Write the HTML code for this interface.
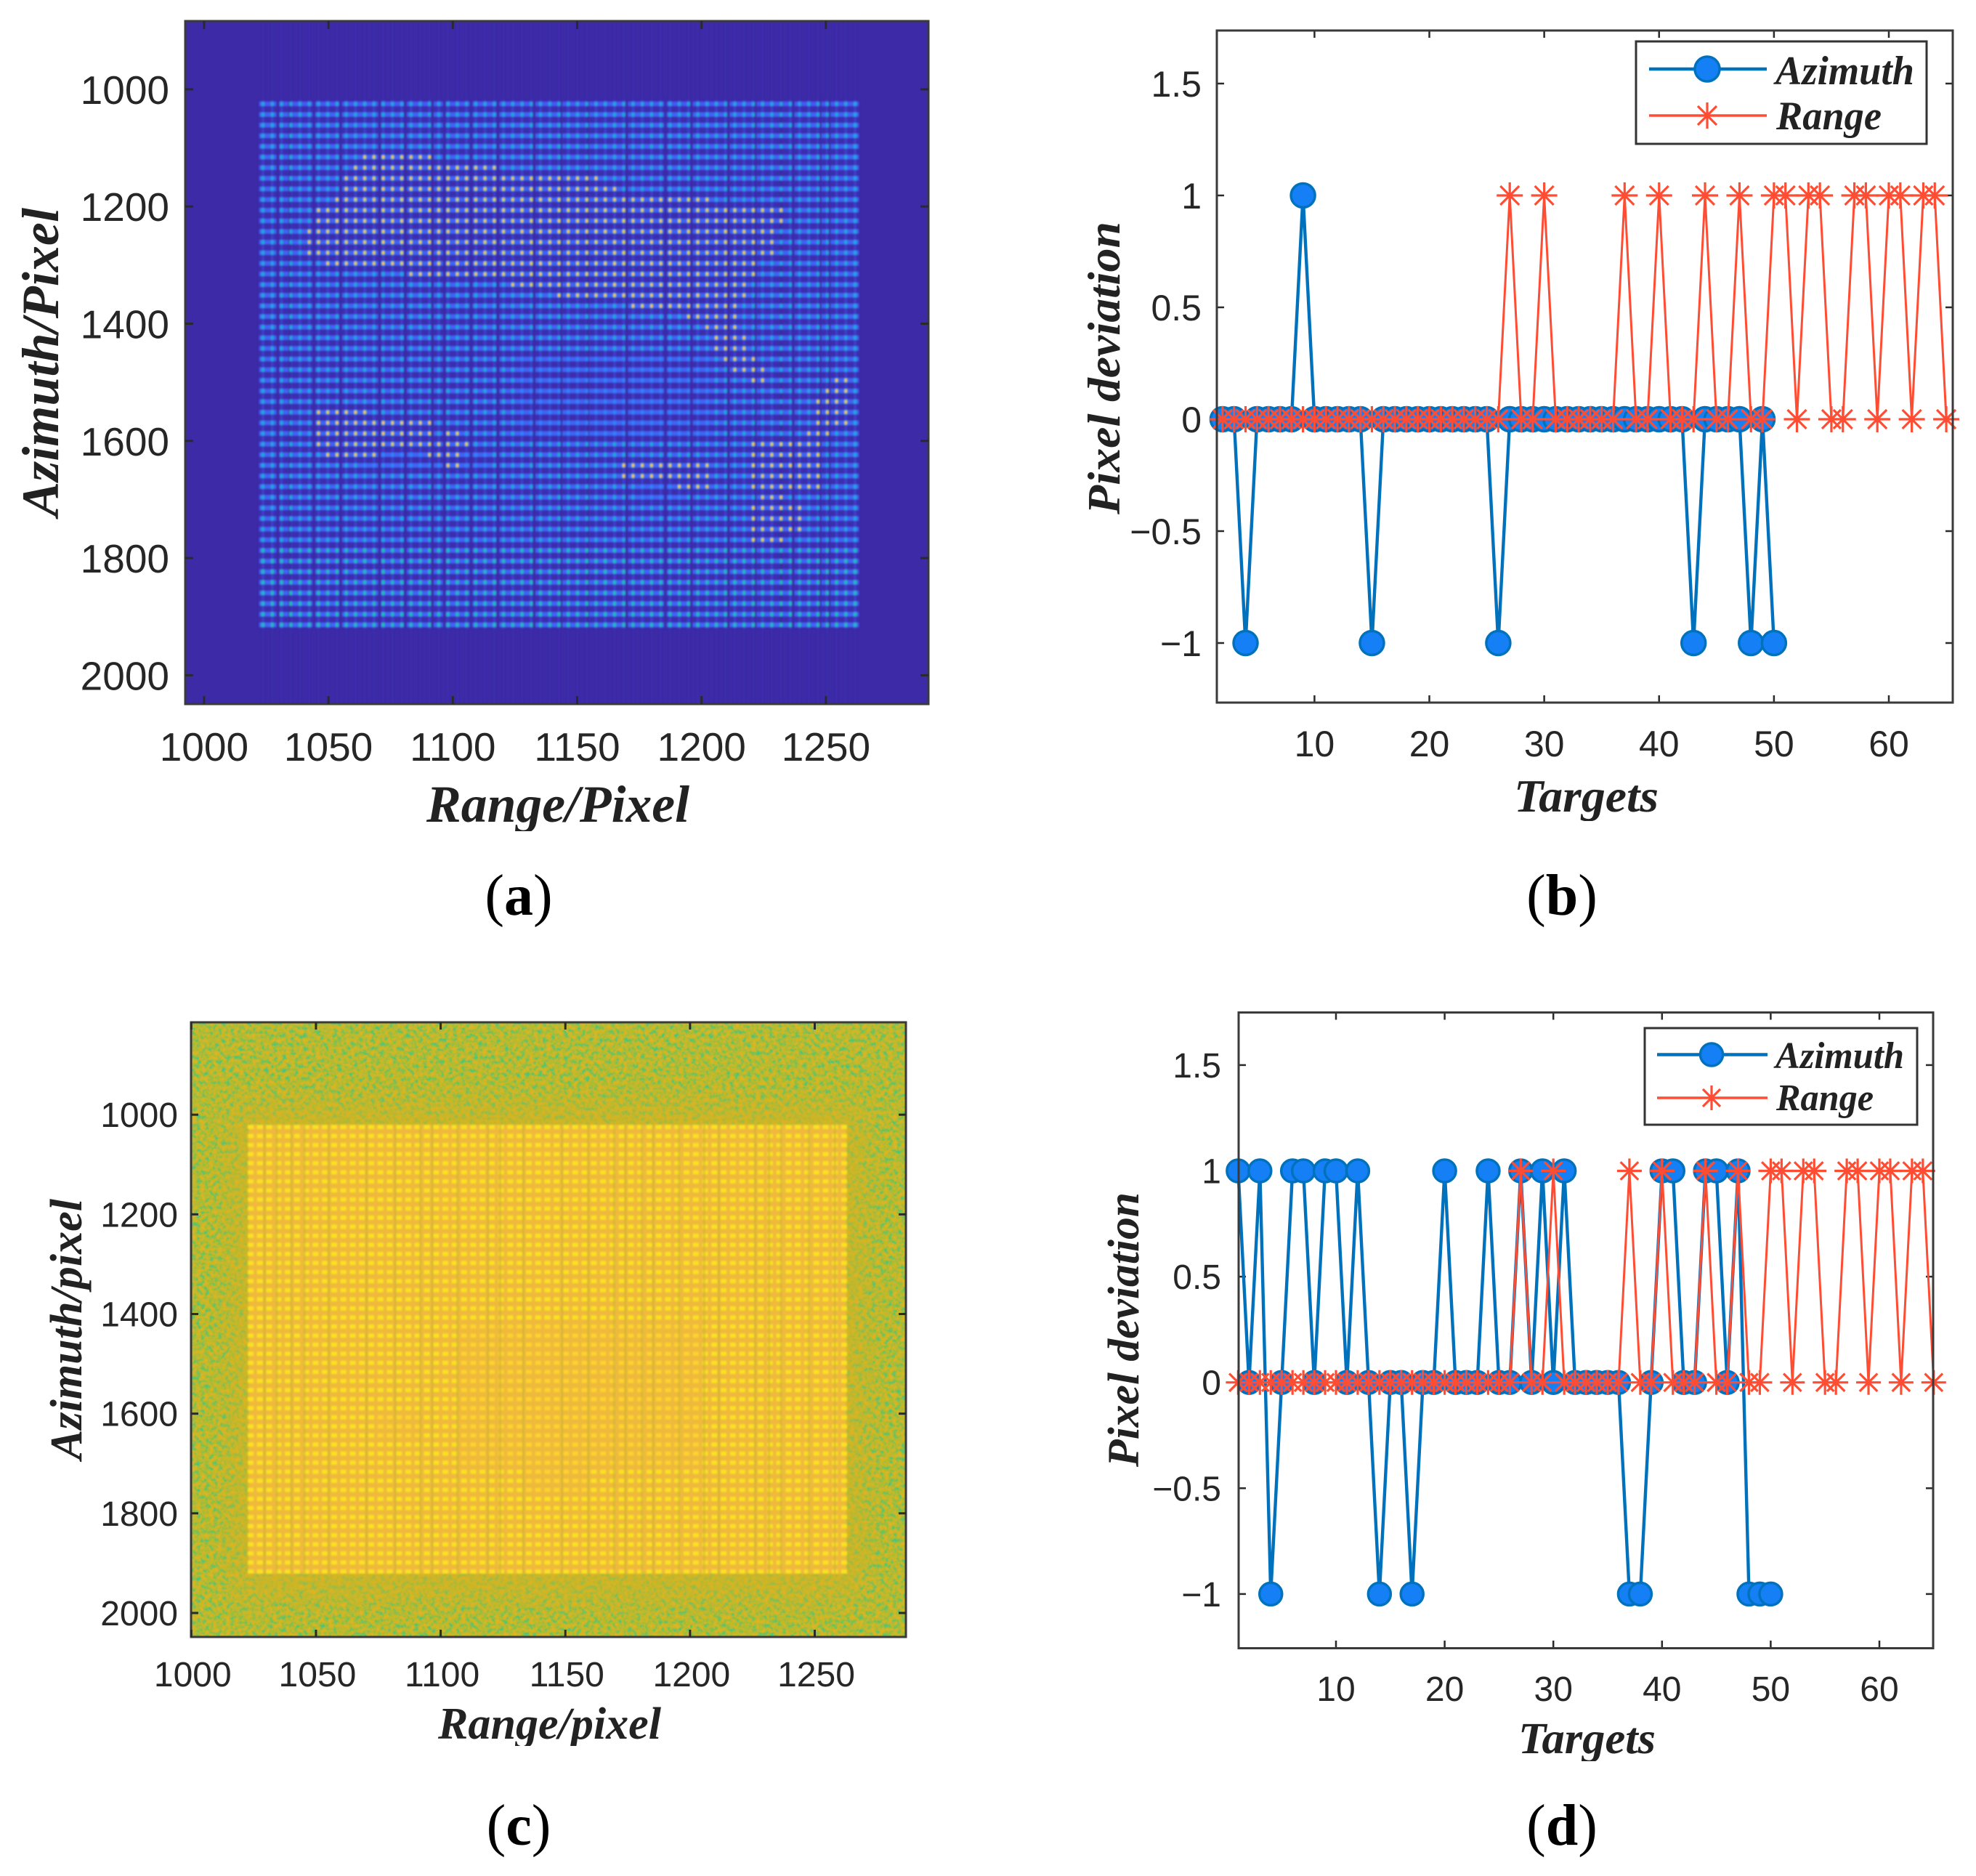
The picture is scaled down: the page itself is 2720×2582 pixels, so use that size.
<!DOCTYPE html>
<html lang="en">
<head>
<meta charset="utf-8">
<title>SAR image and pixel deviation figure</title>
<style>
html,body{margin:0;padding:0;background:#fff}
svg{display:block}
.tick{font-family:"Liberation Sans",sans-serif;fill:#262626}
.lab{font-family:"Liberation Serif",serif;font-weight:bold;font-style:italic;fill:#222}
.cap{font-family:"Liberation Serif",serif;fill:#000;font-size:80px}
.cap tspan{font-weight:bold}
</style>
</head>
<body>
<svg id="fig" xmlns="http://www.w3.org/2000/svg" width="2720" height="2582" viewBox="0 0 2720 2582">
<defs>
<filter id="soft" x="-2%" y="-2%" width="104%" height="104%"><feGaussianBlur stdDeviation="1"/></filter>
<filter id="soft2" x="-2%" y="-2%" width="104%" height="104%"><feGaussianBlur stdDeviation="1"/></filter>
<filter id="glow" x="-10%" y="-10%" width="120%" height="120%"><feGaussianBlur stdDeviation="22"/></filter>
<filter id="speckle" x="0" y="0" width="100%" height="100%" color-interpolation-filters="sRGB">
<feTurbulence type="fractalNoise" baseFrequency="0.17" numOctaves="2" seed="7"/>
<feColorMatrix type="matrix" values="1 0 0 0 0 1 0 0 0 0 1 0 0 0 0 0 0 0 0 1"/>
<feComponentTransfer>
<feFuncR type="table" tableValues="0.20 0.24 0.36 0.56 0.72 0.80 0.86 0.90 0.93"/>
<feFuncG type="table" tableValues="0.78 0.78 0.77 0.75 0.73 0.72 0.71 0.70 0.68"/>
<feFuncB type="table" tableValues="0.58 0.55 0.44 0.28 0.19 0.16 0.15 0.16 0.17"/>
</feComponentTransfer>
</filter>
</defs>
<rect width="2720" height="2582" fill="#fff"/>

<g id="panel-a">
<rect x="255" y="29" width="1023" height="940" fill="#3c2aa6"/>
<g id="heat-a" filter="url(#soft)"></g>
<rect x="255" y="29" width="1023" height="940" fill="none" stroke="#3a3a3a" stroke-width="3"/>
<g id="axes-a"></g>
<text class="lab" x="587" y="1131" font-size="72" textLength="362" lengthAdjust="spacingAndGlyphs">Range/Pixel</text>
<rect x="580" y="1144" width="380" height="24" fill="#fff"/>
<text class="lab" transform="translate(80 711) rotate(-90)" font-size="72" textLength="425" lengthAdjust="spacingAndGlyphs">Azimuth/Pixel</text>
<text class="cap" x="714" y="1259" text-anchor="middle">(<tspan>a</tspan>)</text>
</g>

<g id="panel-c">
<rect x="263" y="1407" width="984" height="846" filter="url(#speckle)"/>
<svg x="263" y="1407" width="984" height="846" viewBox="263 1407 984 846">
<rect x="320" y="1520" width="868" height="680" fill="#d8b224" opacity="0.62" filter="url(#glow)"/>
</svg>
<g id="heat-c" filter="url(#soft2)"></g>
<rect x="263" y="1407" width="984" height="846" fill="none" stroke="#3a3a3a" stroke-width="3"/>
<g id="axes-c"></g>
<text class="lab" x="603" y="2393" font-size="62" textLength="307" lengthAdjust="spacingAndGlyphs">Range/pixel</text>
<rect x="596" y="2403" width="330" height="24" fill="#fff"/>
<text class="lab" transform="translate(112 2009) rotate(-90)" font-size="62" textLength="359" lengthAdjust="spacingAndGlyphs">Azimuth/pixel</text>
<text class="cap" x="714" y="2539" text-anchor="middle">(<tspan>c</tspan>)</text>
</g>

<g id="panel-b">
<g id="axes-b"></g>
<g id="series-b"></g>
<rect x="1675" y="42" width="1013" height="925" fill="none" stroke="#3a3a3a" stroke-width="3"/>
<g>
<rect x="2252" y="57" width="400" height="141" fill="#fff" stroke="#333" stroke-width="3"/>
<line x1="2270" y1="95" x2="2432" y2="95" stroke="#0072bd" stroke-width="4.5"/>
<circle cx="2350" cy="95" r="17" fill="#1580f5" stroke="#0072bd" stroke-width="3.5"/>
<text class="lab" x="2444" y="116" font-size="56" textLength="191" lengthAdjust="spacingAndGlyphs" fill="#000">Azimuth</text>
<line x1="2270" y1="159" x2="2432" y2="159" stroke="#ff4d33" stroke-width="3.4"/>
<path d="M2350 141V177M2337 146L2363 172M2337 172L2363 146" stroke="#ff4d33" stroke-width="3.2" fill="none"/>
<text class="lab" x="2445" y="178" font-size="56" textLength="145" lengthAdjust="spacingAndGlyphs" fill="#000">Range</text>
</g>
<text class="lab" x="2084" y="1117" font-size="64" textLength="199" lengthAdjust="spacingAndGlyphs">Targets</text>
<rect x="2078" y="1130" width="215" height="24" fill="#fff"/>
<text class="lab" transform="translate(1541 708) rotate(-90)" font-size="64" textLength="403" lengthAdjust="spacingAndGlyphs">Pixel deviation</text>
<text class="cap" x="2150" y="1259" text-anchor="middle">(<tspan>b</tspan>)</text>
</g>

<g id="panel-d">
<g id="axes-d"></g>
<g id="series-d"></g>
<rect x="1705" y="1393.5" width="956" height="875" fill="none" stroke="#3a3a3a" stroke-width="3"/>
<g>
<rect x="2264" y="1415" width="375" height="133" fill="#fff" stroke="#333" stroke-width="3"/>
<line x1="2281" y1="1451.5" x2="2433" y2="1451.5" stroke="#0072bd" stroke-width="4.5"/>
<circle cx="2356" cy="1451.5" r="15.5" fill="#1580f5" stroke="#0072bd" stroke-width="3.5"/>
<text class="lab" x="2444" y="1470" font-size="52" textLength="177" lengthAdjust="spacingAndGlyphs" fill="#000">Azimuth</text>
<line x1="2281" y1="1511" x2="2433" y2="1511" stroke="#ff4d33" stroke-width="3.4"/>
<path d="M2356 1494V1528M2344 1499L2368 1523M2344 1523L2368 1499" stroke="#ff4d33" stroke-width="3.2" fill="none"/>
<text class="lab" x="2445" y="1528" font-size="52" textLength="134" lengthAdjust="spacingAndGlyphs" fill="#000">Range</text>
</g>
<text class="lab" x="2090" y="2413" font-size="61" textLength="189" lengthAdjust="spacingAndGlyphs">Targets</text>
<rect x="2084" y="2424" width="205" height="24" fill="#fff"/>
<text class="lab" transform="translate(1567 2019) rotate(-90)" font-size="61" textLength="378" lengthAdjust="spacingAndGlyphs">Pixel deviation</text>
<text class="cap" x="2150" y="2539" text-anchor="middle">(<tspan>d</tspan>)</text>
</g>
</svg>

<script>
// ---- chart data ----
const rangeTicks = [1000, 1050, 1100, 1150, 1200, 1250];
const azimuthTicks = [1000, 1200, 1400, 1600, 1800, 2000];
const targetTicks = [10, 20, 30, 40, 50, 60];
const deviationTicks = [-1, -0.5, 0, 0.5, 1, 1.5];
const deviationTickLabels = ['\u22121', '\u22120.5', '0', '0.5', '1', '1.5'];

// panel (b): first azimuth/range sample is target 2
const firstTargetB = 2;
const azimuthB = [0,0,-1,0,0,0,0,1,0,0,0,0,0,-1,0,0,0,0,0,0,0,0,0,0,-1,0,0,0,0,0,0,0,0,0,0,0,0,0,0,0,0,-1,0,0,0,0,-1,0,-1];
const rangeB = [0,0,0,0,0,0,0,0,0,0,0,0,0,0,0,0,0,0,0,0,0,0,0,0,0,1,0,0,1,0,0,0,0,0,0,1,0,0,1,0,0,0,1,0,0,1,0,0,1,1,0,1,1,0,0,1,1,0,1,1,0,1,1,0];

// panel (d): first sample is target 1
const firstTargetD = 1;
const azimuthD = [1,0,1,-1,0,1,1,0,1,1,0,1,0,-1,0,0,-1,0,0,1,0,0,0,1,0,0,1,0,1,0,1,0,0,0,0,0,-1,-1,0,1,1,0,0,1,1,0,1,-1,-1,-1];
const rangeD = [0,0,0,0,0,0,0,0,0,0,0,0,0,0,0,0,0,0,0,0,0,0,0,0,0,0,1,0,0,1,0,0,0,0,0,0,1,0,0,1,0,0,0,1,0,0,1,0,0,1,1,0,1,1,0,0,1,1,0,1,1,0,1,1,0];

// heatmap (a): 50 rows x 65 columns of point targets
const gridRows = 50;
const gridCols = 65;
// bright runs: [row, first column, last column]
const brightRunsA = [[5,11,18],[6,10,25],[7,9,36],[8,9,38],[9,8,48],[10,6,56],[11,6,56],[12,5,55],[13,5,55],[14,5,55],[15,7,53],[16,16,53],[17,27,52],[18,32,52],[19,40,51],[20,46,51],[21,48,51],[22,49,52],[23,49,52],[24,50,53],[25,51,54],[26,53,54],[26,62,63],[27,61,63],[28,60,63],[29,6,11],[29,60,63],[30,6,18],[30,60,63],[31,6,18],[31,20,21],[31,59,61],[32,6,22],[32,53,60],[33,7,12],[33,18,21],[33,53,60],[34,20,21],[34,39,48],[34,53,60],[35,39,48],[35,53,60],[36,45,48],[36,53,60],[37,54,56],[38,53,58],[39,53,58],[40,53,58],[41,53,56]];
// dim blocks: [first row, last row, first column, last column]
const dimBlocksA = [[24,31,28,48],[33,34,11,24],[36,37,41,45]];
// dark vertical gaps, in column units
const gapColsA = [1.6,2.9,5.5,8.4,12.6,15.4,18.3,19.6,22.5,25.4,29.3,32.2,35.1,39.3,43.5,46.3,50.3,53.2,56,57.3,60.2,61.2];
const spotLevelsA = {base: 0.34, lower: 0.42, bright: 0.86, halo: 0.5, dim: 0.24};
// heatmap (c)
const dimBlocksC = [[22,37,23,48],[32,34,14,18],[38,40,30,36]];
const gapColsC = [1.5,2.8,4.4,5.8,8.4,12.5,15.6,18.3,19.6,22.3,25.6,26.9,29.4,33.6,36.4,39.2,40.4,42.2,43.4,46.2,48.9,50.5,54.4,55.9,57.2,60.2,63];
const spotLevelsC = {base: 0.94, dim: 0.905, band: 0.76};

// ---- scales ----
const NS = 'http://www.w3.org/2000/svg';
function linear(d0, d1, p0, p1) { return v => p0 + (v - d0) * (p1 - p0) / (d1 - d0); }
const xA = linear(1000, 1250, 280.9, 1136.9), yA = linear(1000, 2000, 122.9, 929.4);
const xC = linear(1000, 1250, 263.3, 1121.5), yC = linear(1000, 2000, 1534.2, 2220);
const xB = linear(10, 60, 1809.4, 2600), yB = linear(0, 1, 577, 269);
const xD = linear(10, 60, 1839, 2587), yD = linear(0, 1, 1902.7, 1611.5);
const gridA = {l: 362, r: 1177, t: 143, b: 860};
const gridC = {l: 345, r: 1162, t: 1551, b: 2163};
const colA = linear(0, gridCols - 1, gridA.l, gridA.r), rowA = linear(0, gridRows - 1, gridA.t, gridA.b);
const colC = linear(0, gridCols - 1, gridC.l, gridC.r), rowC = linear(0, gridRows - 1, gridC.t, gridC.b);

const parulaStops = [[0,62,38,168],[.125,72,82,244],[.25,45,135,247],[.375,18,177,214],[.5,55,200,151],[.625,165,190,107],[.75,238,185,58],[.875,254,197,52],[1,249,251,21]];
function parula(t) {
  t = Math.max(0, Math.min(1, t));
  for (let i = 1; i < parulaStops.length; i++) {
    if (t <= parulaStops[i][0]) {
      const a = parulaStops[i - 1], b = parulaStops[i], f = (t - a[0]) / (b[0] - a[0]);
      return 'rgb(' + [1, 2, 3].map(k => Math.round(a[k] + (b[k] - a[k]) * f)).join(',') + ')';
    }
  }
  return 'rgb(249,251,21)';
}
function make(tag, attrs, parent) {
  const el = document.createElementNS(NS, tag);
  for (const k in attrs) el.setAttribute(k, attrs[k]);
  parent.appendChild(el);
  return el;
}
function $(id) { return document.getElementById(id); }

// ---- axes ----
function drawAxes(parent, o) {
  o.xTicks.forEach((v, i) => {
    const x = o.sx(v);
    const t1 = make('line', {x1: x, x2: x, y1: o.bottom, y2: o.bottom - o.len, stroke: '#2a2a2a', 'stroke-width': o.tw}, parent);
    
    
    const t2 = make('line', {x1: x, x2: x, y1: o.top, y2: o.top + o.len, stroke: '#2a2a2a', 'stroke-width': o.tw}, parent);
    
    
    const lab = make('text', {x: x + (o.xLabShift || 0), y: o.xLabY, 'text-anchor': 'middle', 'font-size': o.fs, class: 'tick'}, parent);
    lab.textContent = String(v);
    
    
  });
  o.yTicks.forEach((v, i) => {
    const y = o.sy(v);
    const t1 = make('line', {x1: o.left, x2: o.left + o.len, y1: y, y2: y, stroke: '#2a2a2a', 'stroke-width': o.tw}, parent);
    
    
    const t2 = make('line', {x1: o.right, x2: o.right - o.len, y1: y, y2: y, stroke: '#2a2a2a', 'stroke-width': o.tw}, parent);
    
    
    const lab = make('text', {x: o.yLabX, y: y + o.yLabDy, 'text-anchor': 'end', 'font-size': o.fs, class: 'tick'}, parent);
    lab.textContent = o.yLabels ? o.yLabels[i] : String(v);
    
    
  });
}
drawAxes($('axes-a'), {xTicks: rangeTicks, yTicks: azimuthTicks, sx: xA, sy: yA, left: 255, right: 1278, top: 29, bottom: 969, len: 11, tw: 3, fs: 55, xLabY: 1047, yLabX: 233, yLabDy: 20});
drawAxes($('axes-c'), {xTicks: rangeTicks, yTicks: azimuthTicks, sx: xC, sy: yC, left: 263, right: 1247, top: 1407, bottom: 2253, len: 10, tw: 3, fs: 48, xLabY: 2321, xLabShift: 2, yLabX: 245, yLabDy: 17});
drawAxes($('axes-b'), {xTicks: targetTicks, yTicks: deviationTicks, yLabels: deviationTickLabels, sx: xB, sy: yB, left: 1675, right: 2688, top: 42, bottom: 967, len: 10, tw: 2.5, fs: 50, xLabY: 1041, yLabX: 1654, yLabDy: 18});
drawAxes($('axes-d'), {xTicks: targetTicks, yTicks: deviationTicks, yLabels: deviationTickLabels, sx: xD, sy: yD, left: 1705, right: 2661, top: 1393.5, bottom: 2268, len: 10, tw: 2.5, fs: 48, xLabY: 2341, yLabX: 1681, yLabDy: 17});

// ---- line series ----
function drawSeries(parent, sx, sy, first, azimuth, range, r, starR) {
  const azPts = azimuth.map((v, i) => sx(first + i).toFixed(1) + ',' + sy(v).toFixed(1)).join(' ');
  const azLine = make('polyline', {points: azPts, fill: 'none', stroke: '#0072bd', 'stroke-width': 4.4, 'stroke-linejoin': 'miter'}, parent);
  
  
  azimuth.forEach((v, i) => {
    const c = make('circle', {cx: sx(first + i), cy: sy(v), r: r, fill: '#1580f5', stroke: '#0072bd', 'stroke-width': 3.5}, parent);
    
    
  });
  const rgPts = range.map((v, i) => sx(first + i).toFixed(1) + ',' + sy(v).toFixed(1)).join(' ');
  const rgLine = make('polyline', {points: rgPts, fill: 'none', stroke: '#ff4d33', 'stroke-width': 3}, parent);
  
  
  range.forEach((v, i) => {
    const x = sx(first + i), y = sy(v), s = starR, d = starR * 0.72;
    const p = make('path', {d: 'M' + (x - s) + ' ' + y + 'H' + (x + s) + 'M' + x + ' ' + (y - s) + 'V' + (y + s) + 'M' + (x - d) + ' ' + (y - d) + 'L' + (x + d) + ' ' + (y + d) + 'M' + (x - d) + ' ' + (y + d) + 'L' + (x + d) + ' ' + (y - d), fill: 'none', stroke: '#ff4d33', 'stroke-width': 3.2}, parent);
    
    
  });
}
drawSeries($('series-b'), xB, yB, firstTargetB, azimuthB, rangeB, 16.5, 18);
drawSeries($('series-d'), xD, yD, firstTargetD, azimuthD, rangeD, 15.5, 17);

// ---- heatmap a ----
function inBlocks(blocks, r, c) {
  return blocks.some(b => r >= b[0] && r <= b[1] && c >= b[2] && c <= b[3]);
}
(function () {
  const g = $('heat-a');
  const bed = make('rect', {x: gridA.l - 6, y: gridA.t - 5, width: gridA.r - gridA.l + 12, height: gridA.b - gridA.t + 10, fill: '#3b2fae'}, g);
  
  
  for (let c = 0; c < gridCols; c++) {
    const s = make('rect', {x: colA(c) - 1.5, y: 29, width: 3, height: 940, fill: '#4336c4', opacity: 0.2}, g);
    
    
    const s2 = make('rect', {x: colA(c) - 1.7, y: gridA.t - 5, width: 3.4, height: gridA.b - gridA.t + 10, fill: parula(0.1), opacity: 0.55}, g);
    
    
  }
  for (let r = 0; r < gridRows; r++) {
    const band = make('rect', {x: gridA.l - 5, y: rowA(r) - 3, width: gridA.r - gridA.l + 10, height: 6, fill: parula(r === 0 ? 0.14 : 0.165)}, g);
    
    
  }
  gapColsA.forEach(gc => {
    const gap = make('rect', {x: colA(gc) - 2, y: gridA.t - 6, width: 4, height: gridA.b - gridA.t + 12, fill: '#3a2ba6', opacity: 0.95}, g);
    
    
  });
  const bright = {};
  brightRunsA.forEach(run => {
    for (let c = run[1]; c <= run[2]; c++) bright[run[0] + ':' + c] = true;
  });
  for (let r = 0; r < gridRows; r++) {
    for (let c = 0; c < gridCols; c++) {
      let v = r >= 42 ? spotLevelsA.lower : spotLevelsA.base;
      if (inBlocks(dimBlocksA, r, c)) v = spotLevelsA.dim;
      const isBright = bright[r + ':' + c];
      const cell = make('rect', {x: colA(c) - 2, y: rowA(r) - 2.8, width: 4, height: 5.6, fill: parula(isBright ? spotLevelsA.halo : v)}, g);
      
      
      if (isBright) {
        const core = make('rect', {x: colA(c) - 1.6, y: rowA(r) - 2, width: 3.2, height: 4, fill: parula(spotLevelsA.bright)}, g);
        
        
      }
    }
  }
})();

// ---- heatmap c ----
(function () {
  const g = $('heat-c');
  const bed = make('rect', {x: gridC.l - 3, y: gridC.t - 3, width: gridC.r - gridC.l + 6, height: gridC.b - gridC.t + 6, fill: parula(spotLevelsC.band)}, g);
  
  
  for (let r = 0; r < gridRows; r++) {
    for (let c = 0; c < gridCols; c++) {
      const v = inBlocks(dimBlocksC, r, c) ? spotLevelsC.dim : spotLevelsC.base;
      const cell = make('rect', {x: colC(c) - 4, y: rowC(r) - 2.8, width: 8, height: 5.6, fill: parula(v)}, g);
      
      
    }
  }
  gapColsC.forEach(gc => {
    const gap = make('rect', {x: colC(gc) - 1.5, y: gridC.t - 3, width: 3, height: gridC.b - gridC.t + 6, fill: '#c9b234', opacity: 0.6}, g);
    
    
  });
})();
</script>
</body>
</html>
